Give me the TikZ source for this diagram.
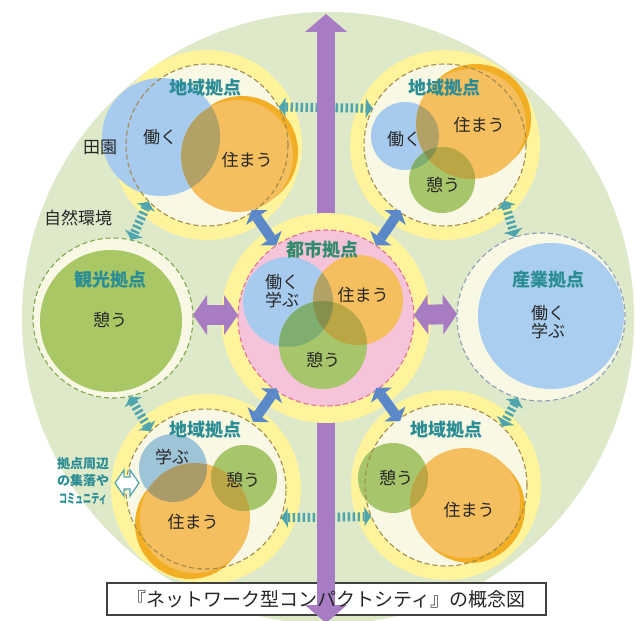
\documentclass[tikz,border=0pt]{standalone}
\usepackage{fontspec}
\setmainfont{Noto Sans CJK JP}
\usetikzlibrary{calc,arrows.meta}

\definecolor{bgGreen}{HTML}{DDE9C9}
\definecolor{haloY}{HTML}{FFF39B}
\definecolor{cream}{HTML}{F8F8E4}
\definecolor{pinkF}{HTML}{F6C4DA}
\definecolor{pinkD}{HTML}{E0708F}
\definecolor{blueC}{HTML}{A7CBEE}
\definecolor{blueG}{HTML}{9EC4D8}
\definecolor{orangeC}{HTML}{F5BE5E}
\definecolor{orangeD}{HTML}{F2AE25}
\definecolor{greenC}{HTML}{A7C56A}
\definecolor{tourG}{HTML}{A9C865}
\definecolor{indB}{HTML}{AACEF0}
\definecolor{dashBr}{HTML}{A38B4C}
\definecolor{dashGr}{HTML}{7DA84E}
\definecolor{dashBl}{HTML}{8CA0B4}
\definecolor{tealT}{HTML}{2A8C94}
\definecolor{cityT}{HTML}{2F8B6B}
\definecolor{tealA}{HTML}{4FA5AE}
\definecolor{blueA}{HTML}{5A88C8}
\definecolor{purA}{HTML}{A77CC2}
\definecolor{ovBO}{HTML}{B3A266}
\definecolor{ovBG}{HTML}{7FAE70}
\definecolor{ovOG}{HTML}{BBA646}
\definecolor{ovBOG}{HTML}{86904E}
\definecolor{ovGO}{HTML}{A99C6A}

\newcommand\ovl[3]{\begin{scope}\clip #1;\fill[#3] #2;\end{scope}}

\begin{document}
\begin{tikzpicture}[x=1pt,y=-1pt,
  hub/.style={circle, inner sep=0pt, outer sep=0pt, line width=1.1pt, dash pattern=on 5pt off 3pt},
  lbl/.style={font=\fontsize{18}{20}\selectfont\bfseries, text=tealT, inner sep=0pt},
  txt/.style={font=\fontsize{17}{18.5}\selectfont, text=black!85, inner sep=0pt, align=center},
  tealarr/.style={draw=tealA, line width=9pt, dash pattern=on 2.5pt off 2.5pt,
     {Latex[length=7pt,width=20pt,line width=0pt]}-{Latex[length=7pt,width=20pt,line width=0pt]}},
  bluearr/.style={draw=blueA, line width=10pt,
     {Triangle[length=9pt,width=26pt,line width=0pt]}-{Triangle[length=9pt,width=26pt,line width=0pt]}},
  purarr/.style={draw=purA, line width=20pt,
     {Triangle[length=14pt,width=40pt,line width=0pt]}-{Triangle[length=14pt,width=40pt,line width=0pt]}},
  vpur/.style={draw=purA, line width=18pt, -{Triangle[length=18pt,width=42pt,line width=0pt]}},
  wdarrow/.style={draw=tealA, fill=white, line width=1.2pt, line join=miter},
  capbox/.style={draw=black!75, fill=white, line width=1.3pt, minimum width=439pt, minimum height=32pt, inner sep=0pt}
]
\useasboundingbox (0,0) rectangle (636,620);
\fill[white] (0,0) rectangle (636,620);
\begin{scope}
\clip (0,0) rectangle (636,620);
% big background disc
\fill[bgGreen] (328,318) circle[radius=306pt];

% ---- top-left regional hub
\fill[haloY] (207,145) circle[radius=95pt];
\fill[cream] (207,145) circle[radius=81pt];
\fill[orangeD] (242,152) circle[radius=56pt];
\fill[blueC] (161,137) circle[radius=59pt];
\fill[orangeC] (237,156) circle[radius=56pt];
\ovl{(161,137) circle[radius=59pt]}{(237,156) circle[radius=56pt]}{ovBO}
\node[hub, draw=dashBr, minimum size=162pt] (tl) at (207,145) {};

% ---- top-right regional hub
\fill[haloY] (445,145) circle[radius=95pt];
\fill[cream] (445,145) circle[radius=81pt];
\fill[orangeD] (476,119) circle[radius=55pt];
\fill[blueC] (405,136) circle[radius=34pt];
\fill[orangeC] (471,124) circle[radius=55pt];
\fill[greenC] (442,180) circle[radius=33pt];
\ovl{(405,136) circle[radius=34pt]}{(471,124) circle[radius=55pt]}{ovBO}
\ovl{(405,136) circle[radius=34pt]}{(442,180) circle[radius=33pt]}{ovBG}
\ovl{(471,124) circle[radius=55pt]}{(442,180) circle[radius=33pt]}{ovOG}
\begin{scope}\clip (405,136) circle[radius=34pt]; \clip (471,124) circle[radius=55pt]; \fill[ovBOG] (442,180) circle[radius=33pt];\end{scope}
\node[hub, draw=dashBr, minimum size=162pt] (tr) at (445,145) {};

% ---- bottom-left regional hub
\fill[haloY] (206,489) circle[radius=95pt];
\fill[cream] (206,489) circle[radius=80pt];
\fill[orangeD] (190,524) circle[radius=55pt];
\fill[blueG] (173,468) circle[radius=34pt];
\fill[orangeC] (195,518) circle[radius=55pt];
\fill[greenC] (244,478) circle[radius=33pt];
\ovl{(173,468) circle[radius=34pt]}{(195,518) circle[radius=55pt]}{ovGO}
\ovl{(195,518) circle[radius=55pt]}{(244,478) circle[radius=33pt]}{ovOG}
\node[hub, draw=dashBr, minimum size=160pt] (bl) at (206,489) {};

% ---- bottom-right regional hub
\fill[haloY] (446,485) circle[radius=95pt];
\fill[cream] (446,485) circle[radius=81pt];
\fill[orangeD] (470,508) circle[radius=55pt];
\fill[greenC] (393,478) circle[radius=35pt];
\fill[orangeC] (465,503) circle[radius=55pt];
\ovl{(393,478) circle[radius=35pt]}{(465,503) circle[radius=55pt]}{ovOG}
\node[hub, draw=dashBr, minimum size=162pt] (br) at (446,485) {};

% ---- tourism hub
\fill[cream] (113,318) circle[radius=80pt];
\fill[tourG] (111,321) circle[radius=71pt];
\node[hub, draw=dashGr, minimum size=160pt] (tour) at (113,318) {};

% ---- industrial hub
\fill[cream] (541,317) circle[radius=84pt];
\fill[indB] (551,316) circle[radius=73pt];
\node[hub, draw=dashBl, minimum size=168pt] (ind) at (541,317) {};

% ---- teal dotted links between hubs
\draw[tealarr] (tl.28) -- (tr.153);
\draw[tealarr] (tl.224) -- (tour.77);
\draw[tealarr] (tour.282) -- (bl.134);
\draw[tealarr] (tr.317) -- (ind.108);
\draw[tealarr] (ind.254) -- (br.46);
\draw[tealarr] (bl.339) -- (br.203);

% ---- caption box
\node[capbox] (cap) at (326.5,599) {};

% ---- vertical purple axis
\coordinate (cityc) at (326,318);
\coordinate (vtop) at (326,14);
\coordinate (vbot) at (326,623);
\draw[vpur] (cityc) -- (vtop);
\draw[vpur] (cityc) -- (vbot);

% ---- city hub
\fill[haloY] (326,318) circle[radius=105pt];
\fill[pinkF] (326,318) circle[radius=88pt];
\fill[blueC] (288,302) circle[radius=45pt];
\fill[orangeC] (358,300) circle[radius=45pt];
\fill[greenC] (323,345) circle[radius=44pt];
\ovl{(288,302) circle[radius=45pt]}{(358,300) circle[radius=45pt]}{ovBO}
\ovl{(288,302) circle[radius=45pt]}{(323,345) circle[radius=44pt]}{ovBG}
\ovl{(358,300) circle[radius=45pt]}{(323,345) circle[radius=44pt]}{ovOG}
\begin{scope}\clip (288,302) circle[radius=45pt]; \clip (358,300) circle[radius=45pt]; \fill[ovBOG] (323,345) circle[radius=44pt];\end{scope}
\node[hub, draw=pinkD, minimum size=176pt] (city) at (326,318) {};

% ---- purple and blue links to the city hub
\draw[purarr] ([yshift=3pt]tour.east) -- ([yshift=3pt]city.west);
\draw[purarr] ([yshift=3pt]city.east) -- ([yshift=3pt]ind.west);
\draw[bluearr] ($(cityc)!88pt!(tl)$) -- ($(cityc)!131pt!(tl)$);
\draw[bluearr] ($(cityc)!88pt!(tr)$) -- ($(cityc)!131pt!(tr)$);
\draw[bluearr] ($(cityc)!86pt!(bl)$) -- ($(cityc)!127pt!(bl)$);
\draw[bluearr] ($(cityc)!86pt!(br)$) -- ($(cityc)!127pt!(br)$);

% ---- texts
\node[lbl] (tlL) at (205,88) {地域拠点};
\node[txt] (tlW) at (160,137) {働く};
\node[txt] (tlS) at (247,160) {住まう};

\node[lbl] (trL) at (444,88) {地域拠点};
\node[txt] (trW) at (404,139) {働く};
\node[txt] (trS) at (479,125) {住まう};
\node[txt] (trR) at (443,185) {憩う};

\node[lbl, text=cityT] (cityL) at (322,250) {都市拠点};
\node[txt] (cityW) at (282,291) {働く\\学ぶ};
\node[txt] (cityS) at (363,295) {住まう};
\node[txt] (cityR) at (323,360) {憩う};

\node[lbl] (tourL) at (110,280) {観光拠点};
\node[txt] (tourR) at (110,320) {憩う};

\node[lbl] (indL) at (548,280) {産業拠点};
\node[txt] (indW) at (548,322) {働く\\学ぶ};

\node[lbl] (blL) at (205,430) {地域拠点};
\node[txt] (blM) at (172,457) {学ぶ};
\node[txt] (blR) at (243,480) {憩う};
\node[txt] (blS) at (193,522) {住まう};

\node[lbl] (brL) at (446,430) {地域拠点};
\node[txt] (brR) at (396,478) {憩う};
\node[txt] (brS) at (469,510) {住まう};

\node[txt] (denen) at (100,147) {田園};
\node[txt] (shizen) at (78,218) {自然環境};

\node[font=\fontsize{13}{17.5}\selectfont\bfseries, text=tealT, align=center, inner sep=0pt] (side) at (83,481)
  {拠点周辺\\の集落や\\\scalebox{0.62}[1]{コミュニティ}};
% white double arrow between the side label and the hub
\draw[wdarrow] (115,483) -- (124,470) -- (124,477) -- (130,477) -- (130,470) -- (139,483)
   -- (130,496) -- (130,489) -- (124,489) -- (124,496) -- cycle;

\node[font=\fontsize{19}{20}\selectfont, text=black!85, inner sep=0pt] (capt) at (326.5,599)
  {『ネットワーク型コンパクトシティ』の概念図};
\end{scope}
\end{tikzpicture}
\end{document}
